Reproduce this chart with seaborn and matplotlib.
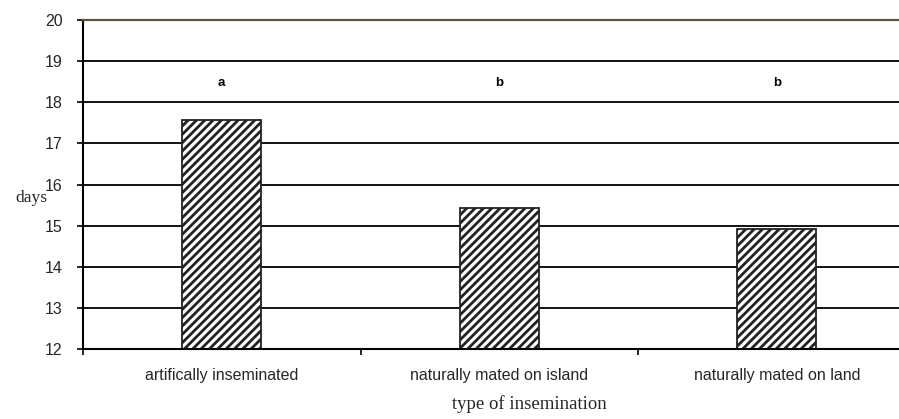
import numpy as np
import pandas as pd
import seaborn as sns
import matplotlib
matplotlib.use("Agg")
import matplotlib.pyplot as plt

# data
categories = ["artifically inseminated", "naturally mated on island", "naturally mated on land"]
days = [17.57, 15.44, 14.93]
letters = ["a", "b", "b"]
letter_y = 18.48
y_ticks = [12, 13, 14, 15, 16, 17, 18, 19, 20]

sns.set_style("white")
plt.rcParams["font.family"] = ["Liberation Sans", "DejaVu Sans"]
plt.rcParams["hatch.linewidth"] = 2.0

df = pd.DataFrame({"type": categories, "days": days})

fig = plt.figure(figsize=(8.99, 4.19), dpi=100)
# axes runs past the right edge of the figure, like the cropped original
ax = fig.add_axes([83 / 899, 70 / 419, 832.5 / 899, 329 / 419])

# gridlines first so bars sit on top
for y in y_ticks[1:-1]:
    ax.axhline(y, color="black", lw=1.3, zorder=0)

sns.barplot(data=df, x="type", y="days", ax=ax, width=0.285, color="white",
            edgecolor="#222222", linewidth=1.3, hatch="////", zorder=2,
            saturation=1)

for i, lab in enumerate(letters):
    ax.text(i, letter_y, lab, ha="center", va="center", fontsize=9.5,
            fontweight="bold", color="black")

ax.set_ylim(12, 20)
ax.set_xlim(-0.5, 2.5)
ax.set_yticks(y_ticks)
ax.set_yticklabels([str(v) for v in y_ticks], fontsize=11.5)
ax.tick_params(axis="y", direction="out", length=4.5, width=1.2, pad=10, color="black", left=True)

# labels at category centers, tick marks at category boundaries
ax.set_xticks(range(len(categories)))
ax.set_xticklabels(categories, fontsize=11.5)
ax.tick_params(axis="x", which="major", length=0, pad=14)
ax.set_xticks(np.arange(-0.5, len(categories), 1.0), minor=True)
ax.tick_params(axis="x", which="minor", direction="out", length=4.5, width=1.2, color="black", bottom=True)

ax.set_xlabel("type of insemination", fontsize=13.5, family=["Liberation Serif", "DejaVu Serif"],
              va="center")
ax.xaxis.set_label_coords((529 - 83) / 832.5, -(404 - 349) / 329)
ax.set_ylabel("days", fontsize=12.5, rotation=0, family=["Liberation Serif", "DejaVu Serif"],
              ha="center", va="center")
ax.yaxis.set_label_coords((31 - 83) / 832.5, (349 - 198) / 329)

for side in ["left", "bottom"]:
    ax.spines[side].set_color("black")
    ax.spines[side].set_linewidth(1.5)
ax.spines["top"].set_color("#5e5540")
ax.spines["top"].set_linewidth(1.6)
ax.spines["right"].set_visible(False)

fig.savefig("out.png", dpi=100)
